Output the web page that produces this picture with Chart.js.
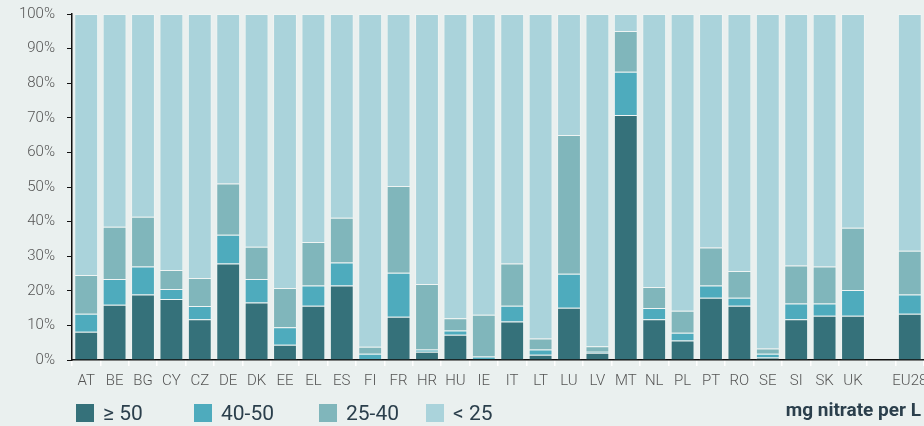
<!DOCTYPE html>
<html>
<head>
<meta charset="utf-8">
<script src="https://cdn.jsdelivr.net/npm/chart.js@4"></script>
<style>
  html, body { margin: 0; padding: 0; background: #eaf0ef; }
  #wrap { position: relative; width: 924px; height: 426px; }
  #chart { position: absolute; left: 0; top: 0; }
  .leg { position: absolute; top: 400px; font-family: Roboto, sans-serif; font-size: 21px; color: #2b3f4c; line-height: 24px; }
  .leg .box { position: absolute; left: 0; top: 4px; width: 18px; height: 18px; }
  .leg span.t { position: absolute; left: 27px; top: 1px; white-space: nowrap; }
  #unit { position: absolute; right: 3px; top: 398px; font-family: Roboto, sans-serif; font-weight: bold; font-size: 19px; color: #2b3f4c; white-space: nowrap; }
</style>
</head>
<body>
<div id="wrap">
  <canvas id="chart" width="924" height="426"></canvas>
  <div class="leg" style="left:76px"><div class="box" style="background:#35717a"></div><span class="t">≥ 50</span></div>
  <div class="leg" style="left:194px"><div class="box" style="background:#4eabbd"></div><span class="t">40-50</span></div>
  <div class="leg" style="left:319px"><div class="box" style="background:#80b6bb"></div><span class="t">25-40</span></div>
  <div class="leg" style="left:426px"><div class="box" style="background:#aad3db"></div><span class="t">&lt; 25</span></div>
  <div id="unit">mg nitrate per L</div>
</div>
<script>
const paises = ['AT','BE','BG','CY','CZ','DE','DK','EE','EL','ES','FI','FR','HR','HU','IE','IT','LT','LU','LV','MT','NL','PL','PT','RO','SE','SI','SK','UK','','EU28'];

// cumulative tops (%), null = empty slot
const topo50 = [8.2,16,18.9,17.6,11.8,27.9,16.6,4.4,15.7,21.5,0.3,12.5,2.4,7.3,0.2,11.1,1.5,15.1,2.1,70.8,11.8,5.6,18,15.7,0.7,11.8,12.8,12.8,null,13.4];
const topo4050 = [13.4,23.4,27,20.5,15.6,36.2,23.4,9.5,21.5,28.2,1.8,25.2,3,8.5,1,15.7,3,24.9,2.4,83.3,15,7.9,21.5,18,1.8,16.3,16.3,20.2,null,18.9];
const topo2540 = [24.6,38.5,41.4,26,23.7,51,32.7,20.8,34.1,41.1,3.8,50.3,22,12.1,13.1,27.9,6.2,65,4,95.1,21.1,14.2,32.5,25.7,3.3,27.3,27,38.2,null,31.6];

const yTicks = [0,10,20,30,40,50,60,70,80,90,100];

function diff(a, b) {
  return a.map((v, i) => v === null ? null : +(v - (b ? b[i] : 0)).toFixed(1));
}
const s50 = diff(topo50);
const s4050 = diff(topo4050, topo50);
const s2540 = diff(topo2540, topo4050);
const s25 = topo2540.map(v => v === null ? null : +(100 - v).toFixed(1));

const cores = ['#35717a', '#4eabbd', '#80b6bb', '#aad3db'];
const nomes = ['≥ 50', '40-50', '25-40', '< 25'];
const series = [s50, s4050, s2540, s25];

const tickFont = { family: 'Roboto', size: 15, weight: '300' };

new Chart(document.getElementById('chart').getContext('2d'), {
  type: 'bar',
  data: {
    labels: paises,
    datasets: series.map((d, i) => ({
      label: nomes[i],
      data: d,
      backgroundColor: cores[i],
      borderColor: 'rgba(255,255,255,0.25)',
      borderWidth: 1,
      barPercentage: 0.84,
      categoryPercentage: 1
    }))
  },
  options: {
    responsive: false,
    animation: false,
    layout: { padding: { top: 14, right: 0, left: 0, bottom: 0 } },
    plugins: { legend: { display: false }, tooltip: { enabled: false } },
    scales: {
      x: {
        stacked: true,
        offset: true,
        grid: { offset: true, drawOnChartArea: false, drawTicks: true, tickLength: 6, color: '#ffffff', lineWidth: 1.5 },
        border: { display: true, color: '#111', width: 1.5 },
        ticks: { font: tickFont, color: '#555', padding: 6, maxRotation: 0, autoSkip: false },
        afterFit: s => { s.height = 66; s.paddingRight = 0; s.paddingLeft = 0; }
      },
      y: {
        stacked: true,
        min: 0,
        max: 100,
        afterBuildTicks: s => { s.ticks = yTicks.map(v => ({ value: v })); },
        grid: { drawOnChartArea: false, drawTicks: true, tickLength: 5, color: '#111' },
        border: { display: true, color: '#111', width: 1.5 },
        ticks: { font: tickFont, color: '#555', padding: 12, callback: v => v + '%' },
        afterFit: s => { s.width = 72; s.paddingTop = 0; s.paddingBottom = 0; }
      }
    }
  }
});
</script>
</body>
</html>
